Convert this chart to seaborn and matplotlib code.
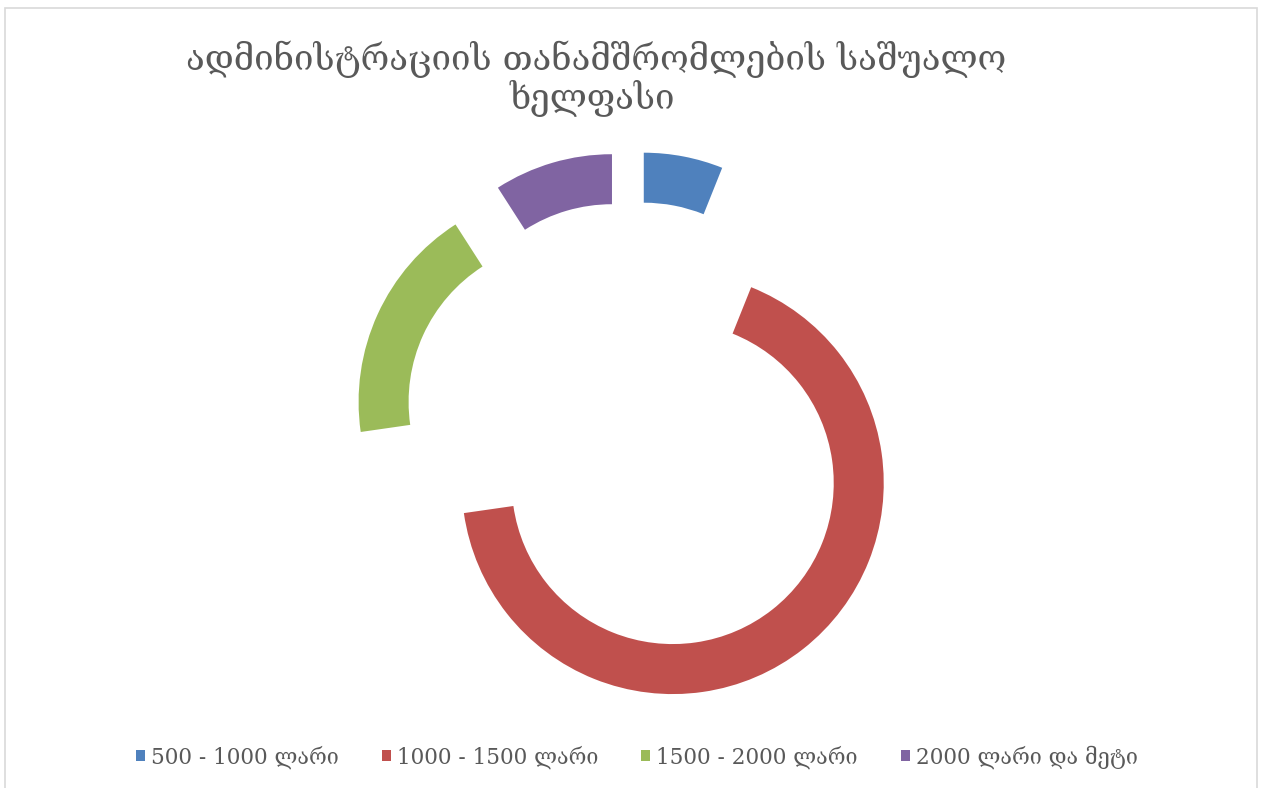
import matplotlib
matplotlib.use("Agg")
import matplotlib.pyplot as plt
import seaborn as sns
from matplotlib.patches import Rectangle

# data
categories = ["500 - 1000 ლარი", "1000 - 1500 ლარი", "1500 - 2000 ლარი", "2000 ლარი და მეტი"]
counts = [2, 22, 6, 3]
colors = ["#4F81BD", "#C0504D", "#9BBB59", "#8064A2"]
title_lines = ["ადმინისტრაციის თანამშრომლების საშუალო", "ხელფასი"]

sns.set_theme(style="white")
plt.rcParams['font.family'] = ['DejaVu Serif', 'DejaVu Sans']

W, H = 1264, 788
fig = plt.figure(figsize=(W / 100, H / 100), dpi=100)
ax = fig.add_axes([0, 0, 1, 1])

wedges, _ = ax.pie(counts, colors=colors, startangle=90, counterclock=False,
                   radius=1, explode=[0.32] * len(counts),
                   wedgeprops=dict(width=0.237, edgecolor='none'))

# ring radius = 211 px, donut centre at (631, 430) px from top-left
r_px = 211
cx, cy = 631, 430
ax.set_xlim(-cx / r_px, (W - cx) / r_px)
ax.set_ylim(-(H - cy) / r_px, cy / r_px)
ax.axis('off')

# title
fig.text(596 / W, 1 - 70 / H, title_lines[0], ha='center', va='baseline',
         fontsize=25, color='#595959')
fig.text(592 / W, 1 - 109 / H, title_lines[1], ha='center', va='baseline',
         fontsize=25, color='#595959')

ax.legend(wedges, categories, loc='center', bbox_to_anchor=(637 / W, 1 - 757 / H),
          bbox_transform=fig.transFigure, ncol=4, frameon=False, fontsize=15.5,
          handlelength=0.4, handleheight=0.4, handletextpad=0.3,
          columnspacing=2.0, labelcolor='#595959')

# chart area border
fig.patches.append(Rectangle((5 / W, -0.02), 1252 / W, 1.02 - 8 / H,
                             transform=fig.transFigure, fill=False,
                             edgecolor='#d9d9d9', linewidth=1.2))

fig.savefig("out.png", dpi=100)
